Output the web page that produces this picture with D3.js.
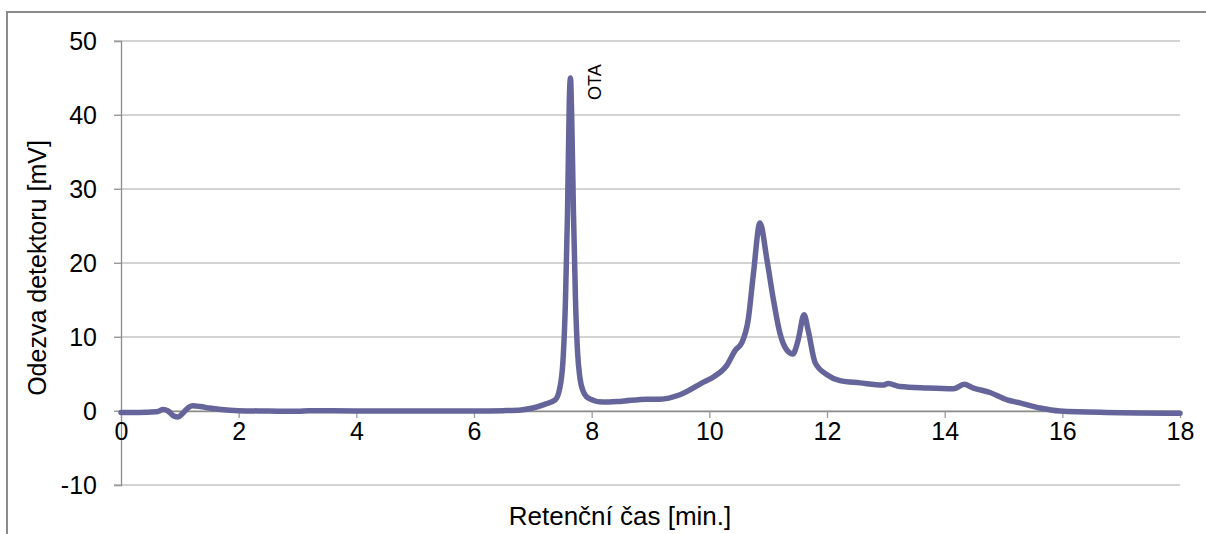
<!DOCTYPE html>
<html>
<head>
<meta charset="utf-8">
<script src="https://cdn.jsdelivr.net/npm/d3@7"></script>
<style>
  body { margin: 0; background: #fff; }
  svg { display: block; font-family: "Liberation Sans", Arial, sans-serif; }
</style>
</head>
<body>
<div id="Chart"></div>
<script>
// retention time [min] and detector response [mV]
var times = [0, 0.3, 0.6, 0.72, 0.8, 0.9, 0.97, 1.05, 1.15, 1.22, 1.35, 1.5, 1.7, 2.0,
             2.5, 3.0, 3.2, 4.0, 5.0, 6.0, 6.5, 6.8, 7.0, 7.2, 7.38,
             7.45, 7.51, 7.555, 7.59, 7.62, 7.64, 7.66, 7.69, 7.725, 7.76, 7.8, 7.86, 7.95,
             8.19, 8.48, 8.94, 9.16, 9.5, 9.9, 10.07, 10.3, 10.44, 10.55, 10.66, 10.75,
             10.86, 10.98, 11.09, 11.2, 11.32, 11.42, 11.51, 11.61, 11.68, 11.8, 12.0,
             12.22, 12.56, 12.95, 13.04, 13.24, 13.7, 14.15, 14.33, 14.49, 14.77, 15.06,
             15.28, 15.62, 15.96, 16.75, 18.0];
var response = [-0.2, -0.2, -0.1, 0.2, 0.0, -0.7, -0.8, -0.3, 0.5, 0.7, 0.6, 0.4, 0.2, 0.05,
                0.0, -0.05, 0.05, 0.0, 0.0, 0.0, 0.05, 0.15, 0.4, 0.9, 1.5,
                2.8, 6.5, 15, 27, 42, 45, 40, 27, 15, 8, 4.5, 2.6, 1.7,
                1.2, 1.3, 1.6, 1.6, 2.2, 3.9, 4.6, 6.2, 8.2, 9.2, 12.3, 18.6,
                25.4, 20.4, 15, 10.5, 8.2, 7.7, 9.6, 13, 10.9, 6.5, 4.9,
                4.1, 3.8, 3.5, 3.7, 3.3, 3.1, 3.0, 3.6, 3.1, 2.5, 1.5,
                1.1, 0.4, 0.0, -0.2, -0.3];
var xTicks = [0, 2, 4, 6, 8, 10, 12, 14, 16, 18];
var yTicks = [-10, 0, 10, 20, 30, 40, 50];
var peakLabel = {name: "OTA", time: 7.64, value: 45};

var width = 1206, height = 534;
var margin = {top: 41, right: 26, bottom: 49, left: 121};

var svg = d3.select("#Chart")
            .append("svg")
            .attr("width", width)
            .attr("height", height);

// outer chart frame (only top and left edges are visible)
svg.append("rect")
   .attr("x", 7).attr("y", 12)
   .attr("width", 1220).attr("height", 540)
   .attr("fill", "none")
   .attr("stroke", "#8c8c8c")
   .attr("stroke-width", 2);

var x = d3.scaleLinear().domain([0, 18]).range([margin.left, width - margin.right]);
var y = d3.scaleLinear().domain([-10, 50]).range([height - margin.bottom, margin.top]);

// horizontal gridlines
svg.append("g")
   .selectAll("line")
   .data(yTicks)
   .enter().append("line")
   .attr("x1", margin.left - 7)
   .attr("x2", x(18))
   .attr("y1", d => y(d))
   .attr("y2", d => y(d))
   .attr("stroke", "#c4c4c4")
   .attr("stroke-width", 1.5);

// y axis
var yAxis = svg.append("g")
   .attr("transform", "translate(" + margin.left + ",0)")
   .call(d3.axisLeft(y).tickValues(yTicks).tickFormat(d => String(d)).tickSize(7).tickPadding(17));
yAxis.select(".domain").attr("stroke", "#8c8c8c").attr("stroke-width", 1.3);
yAxis.selectAll(".tick line").attr("stroke", "#9a9a9a");
yAxis.selectAll("text")
     .attr("font-size", 25)
     .attr("font-family", "Liberation Sans, Arial, sans-serif")
     .attr("fill", "#000");

// x axis sits on y = 0
var xAxis = svg.append("g")
   .attr("transform", "translate(0," + y(0) + ")")
   .call(d3.axisBottom(x).tickValues(xTicks).tickFormat(d => String(d)).tickSize(7).tickSizeOuter(0).tickPadding(4));
xAxis.select(".domain").attr("stroke", "#8c8c8c").attr("stroke-width", 1.5);
xAxis.selectAll(".tick line").attr("stroke", "#9a9a9a").attr("stroke-width", 1.3);
xAxis.selectAll("text")
     .attr("font-size", 25)
     .attr("font-family", "Liberation Sans, Arial, sans-serif")
     .attr("fill", "#000");

// chromatogram trace
var points = times.map((t, i) => ({t: t, v: response[i]}));
var line = d3.line()
             .x(d => x(d.t))
             .y(d => y(d.v))
             .curve(d3.curveMonotoneX);

svg.append("path")
   .datum(points)
   .attr("d", line)
   .attr("fill", "none")
   .attr("stroke", "#65659b")
   .attr("stroke-width", 5.5)
   .attr("stroke-linejoin", "round")
   .attr("stroke-linecap", "round");

// peak label
svg.append("text")
   .attr("transform", "translate(" + (x(peakLabel.time) + 31) + "," + (y(peakLabel.value) + 22) + ") rotate(-90)")
   .attr("font-size", 18)
   .attr("fill", "#000")
   .text(peakLabel.name);

// axis titles
svg.append("text")
   .attr("x", 620)
   .attr("y", 525)
   .attr("text-anchor", "middle")
   .attr("font-size", 26)
   .text("Retenční čas [min.]");

svg.append("text")
   .attr("transform", "translate(46,268) rotate(-90)")
   .attr("text-anchor", "middle")
   .attr("font-size", 25)
   .text("Odezva detektoru [mV]");
</script>
</body>
</html>
